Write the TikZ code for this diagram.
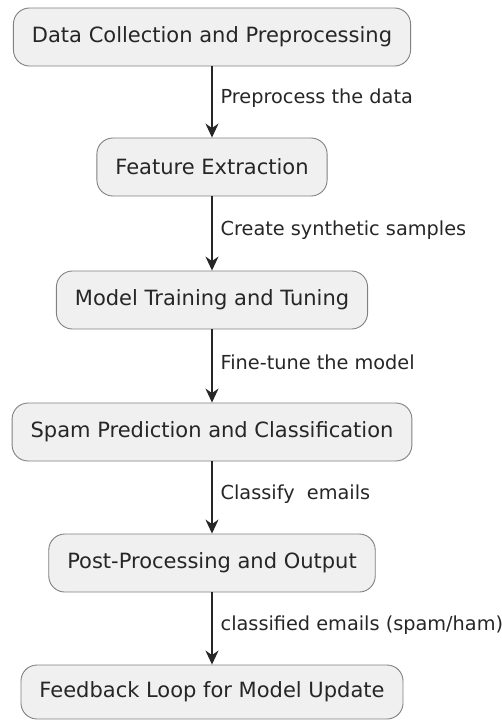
\documentclass[tikz,border=0pt]{standalone}
\usepackage{fontspec}
\setmainfont{DejaVu Sans}
\usetikzlibrary{arrows.meta}

\begin{document}
\begin{tikzpicture}[
        x=1pt,
        y=-1pt,
        stage/.style={
            rectangle,
            rounded corners=16pt,
            draw=black!50,
            fill=black!6,
            line width=0.9pt,
            inner xsep=18.5pt,
            minimum height=58pt,
            text=black!85,
            font=\fontsize{21}{25}\selectfont
        },
        flow/.style={
            -{Stealth[length=14pt,width=13pt,inset=4.5pt]},
            line width=1.3pt,
            draw=black!85
        },
        note/.style={
            anchor=west,
            inner sep=0pt,
            xshift=8pt,
            text=black!85,
            font=\fontsize{19.3}{22}\selectfont
        }
    ]

    \useasboundingbox (0,0) rectangle (502,720);

    % Pipeline stages
    \node[stage] (collect) at (212,37) {Data Collection and Preprocessing};
    \node[stage] (feature) at (212,167) {Feature Extraction};
    \node[stage] (train) at (212,300) {Model Training and Tuning};
    \node[stage] (predict) at (212,432) {Spam Prediction and Classification};
    \node[stage] (post) at (212,563) {Post-Processing and Output};
    \node[stage,minimum height=54pt] (feedback) at (212,692) {Feedback Loop for Model Update};

    % Transitions between stages
    \draw[flow] (collect) -- node[note,pos=0.45] {Preprocess the data} (feature);
    \draw[flow] (feature) -- node[note,pos=0.45] {Create synthetic samples} (train);
    \draw[flow] (train) -- node[note,pos=0.45] {Fine-tune the model} (predict);
    \draw[flow] (predict) -- node[note,pos=0.45] {Classify~~emails} (post);
    \draw[flow] (post) -- node[note,pos=0.45] {classified emails (spam/ham)} (feedback);

    \end{tikzpicture}
\end{document}
